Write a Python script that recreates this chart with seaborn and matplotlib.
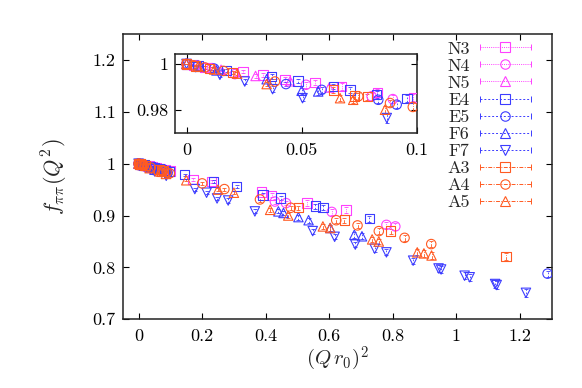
import numpy as np
import pandas as pd
import seaborn as sns
import matplotlib
matplotlib.use("Agg")
import matplotlib.pyplot as plt
from matplotlib.lines import Line2D
from matplotlib.legend_handler import HandlerLine2D, HandlerTuple
from matplotlib.ticker import FuncFormatter, FixedLocator

# ---------------- data ----------------
ensembles = ["N3", "N4", "N5", "E4", "E5", "F6", "F7", "A3", "A4", "A5"]

N3_x = [0.0, 0.003, 0.008, 0.0246, 0.0333, 0.0427, 0.0558, 0.0674, 0.0829, 0.0985, 0.171, 0.23, 0.387, 0.419, 0.53, 0.653]
N3_y = [1.0, 0.9995, 0.9985, 0.9967, 0.9953, 0.9934, 0.992, 0.9902, 0.9877, 0.9855, 0.970, 0.966, 0.945, 0.939, 0.924, 0.911]
N3_e = [0.0, 0.0003, 0.0005, 0.0008, 0.001, 0.001, 0.0012, 0.0014, 0.0015, 0.0017, 0.003, 0.003, 0.004, 0.004, 0.005, 0.006]

N4_x = [0.0, 0.004, 0.011, 0.021, 0.0519, 0.0804, 0.0896, 0.429, 0.464, 0.608, 0.78, 0.808]
N4_y = [1.0, 0.9993, 0.9982, 0.9956, 0.991, 0.986, 0.9848, 0.927, 0.924, 0.907, 0.882, 0.879]
N4_e = [0.0, 0.0003, 0.0006, 0.0008, 0.0012, 0.0015, 0.0016, 0.004, 0.004, 0.005, 0.006, 0.006]

N5_x = [0.0, 0.006, 0.015, 0.03, 0.045, 0.062]
N5_y = [1.0, 0.999, 0.9975, 0.9948, 0.9925, 0.9898]
N5_e = [0.0, 0.0003, 0.0006, 0.0009, 0.0011, 0.0013]

E4_x = [0.0, 0.005, 0.0174, 0.037, 0.0485, 0.0638, 0.071, 0.0826, 0.0957, 0.145, 0.236, 0.309, 0.391, 0.447, 0.556, 0.58, 0.726]
E4_y = [1.0, 0.9992, 0.9971, 0.9946, 0.9927, 0.9903, 0.9888, 0.9867, 0.985, 0.979, 0.965, 0.956, 0.94, 0.934, 0.918, 0.915, 0.894]
E4_e = [0.0, 0.0003, 0.0006, 0.0009, 0.001, 0.0012, 0.0013, 0.0014, 0.0016, 0.002, 0.003, 0.003, 0.004, 0.004, 0.005, 0.005, 0.006]

E5_x = [0.0, 0.005, 0.012, 0.0432, 0.0587, 0.0833, 0.0913, 1.287]
E5_y = [1.0, 0.9992, 0.998, 0.9913, 0.9888, 0.9845, 0.9824, 0.788]
E5_e = [0.0, 0.0003, 0.0005, 0.001, 0.0012, 0.0015, 0.0016, 0.006]

F6_x = [0.0, 0.006, 0.013, 0.0348, 0.05, 0.0572, 0.44, 0.456, 0.503, 0.535, 0.603, 0.679, 0.703]
F6_y = [1.0, 0.9988, 0.9972, 0.9934, 0.9884, 0.9881, 0.908, 0.905, 0.897, 0.891, 0.876, 0.863, 0.860]
F6_e = [0.0, 0.0004, 0.0007, 0.001, 0.0014, 0.0015, 0.004, 0.004, 0.005, 0.005, 0.005, 0.006, 0.006]

F7_x = [0.0, 0.004, 0.0145, 0.0253, 0.0374, 0.0504, 0.087, 0.177, 0.214, 0.247, 0.282, 0.366, 0.548, 0.617,
        0.682, 0.743, 0.78, 0.864, 0.944, 0.952, 1.026, 1.042, 1.122, 1.127, 1.219]
F7_y = [1.0, 0.9986, 0.9953, 0.9924, 0.9891, 0.9852, 0.9766, 0.951, 0.944, 0.933, 0.929, 0.908, 0.870, 0.859,
        0.844, 0.836, 0.829, 0.813, 0.798, 0.796, 0.784, 0.781, 0.768, 0.766, 0.751]
F7_e = [0.0, 0.0004, 0.0008, 0.001, 0.0012, 0.0014, 0.002, 0.003, 0.003, 0.003, 0.004, 0.004, 0.005, 0.005,
        0.005, 0.006, 0.006, 0.006, 0.007, 0.007, 0.007, 0.007, 0.008, 0.008, 0.008]

A3_x = [0.0, 0.004, 0.01, 0.02, 0.0638, 0.073, 0.0785, 0.503, 0.648, 0.793, 1.156]
A3_y = [1.0, 0.9992, 0.998, 0.9962, 0.9888, 0.9862, 0.9858, 0.915, 0.891, 0.870, 0.821]
A3_e = [0.0, 0.0003, 0.0005, 0.0007, 0.0012, 0.0013, 0.0014, 0.004, 0.005, 0.005, 0.006]

A4_x = [0.0, 0.003, 0.008, 0.016, 0.0384, 0.0746, 0.0884, 0.0983, 0.2, 0.27, 0.382, 0.479, 0.622, 0.689, 0.756, 0.837, 0.921]
A4_y = [1.0, 0.9994, 0.9985, 0.997, 0.9924, 0.986, 0.9831, 0.9814, 0.962, 0.951, 0.931, 0.915, 0.891, 0.881, 0.870, 0.857, 0.845]
A4_e = [0.0, 0.0003, 0.0005, 0.0007, 0.001, 0.0014, 0.0015, 0.0016, 0.003, 0.003, 0.004, 0.004, 0.005, 0.005, 0.006, 0.006, 0.006]

A5_x = [0.0, 0.005, 0.012, 0.022, 0.0348, 0.0667, 0.0724, 0.0862, 0.15, 0.25, 0.3, 0.414, 0.471, 0.58, 0.603,
        0.735, 0.756, 0.877, 0.898, 0.922]
A5_y = [1.0, 0.999, 0.9976, 0.9958, 0.9913, 0.9852, 0.9845, 0.9802, 0.968, 0.950, 0.944, 0.911, 0.900, 0.879, 0.876,
        0.854, 0.850, 0.829, 0.827, 0.823]
A5_e = [0.0, 0.0003, 0.0005, 0.0007, 0.001, 0.0013, 0.0014, 0.0015, 0.002, 0.003, 0.003, 0.004, 0.004, 0.005, 0.005,
        0.005, 0.005, 0.006, 0.006, 0.006]

main_xticks = [0, 0.2, 0.4, 0.6, 0.8, 1.0, 1.2]
main_yticks = [0.7, 0.8, 0.9, 1.0, 1.1, 1.2]
inset_xticks = [0, 0.05, 0.1]
inset_yticks = [0.98, 1.0]
xlabel = r"$(Q\,r_0)^2$"
ylabel = r"$f_{\pi\pi}(Q^2)$"

series = {
    "N3": (N3_x, N3_y, N3_e), "N4": (N4_x, N4_y, N4_e), "N5": (N5_x, N5_y, N5_e),
    "E4": (E4_x, E4_y, E4_e), "E5": (E5_x, E5_y, E5_e), "F6": (F6_x, F6_y, F6_e),
    "F7": (F7_x, F7_y, F7_e), "A3": (A3_x, A3_y, A3_e), "A4": (A4_x, A4_y, A4_e),
    "A5": (A5_x, A5_y, A5_e),
}
frames = []
for name in ensembles:
    x, y, e = series[name]
    frames.append(pd.DataFrame({"x": x, "y": y, "err": e, "ens": name}))
df = pd.concat(frames, ignore_index=True)

# ---------------- styles ----------------
MAG, BLU, ORA = "#ff40ff", "#3c3cff", "#ff5a22"
style = {
    "N3": (MAG, "s", (0, (1, 1.2))), "N4": (MAG, "o", (0, (1, 1.2))), "N5": (MAG, "^", (0, (1, 1.2))),
    "E4": (BLU, "s", (0, (2, 2))), "E5": (BLU, "o", (0, (2, 2))), "F6": (BLU, "^", (0, (2, 2))),
    "F7": (BLU, "v", (0, (2, 2))),
    "A3": (ORA, "s", (0, (4, 1.5, 1, 1.5))), "A4": (ORA, "o", (0, (4, 1.5, 1, 1.5))),
    "A5": (ORA, "^", (0, (4, 1.5, 1, 1.5))),
}

sns.set_style("ticks")
plt.rcParams.update({
    "font.family": ["cmr10", "DejaVu Serif"],
    "mathtext.fontset": "cm",
    "axes.formatter.use_mathtext": True,
    "axes.unicode_minus": False,
})

fig = plt.figure(figsize=(5.82, 3.88), dpi=100)
ax = fig.add_axes([0.2108, 0.1771, 0.7371, 0.7353])
axin = fig.add_axes([0.3007, 0.6564, 0.4153, 0.2044])

def draw(target, msize):
    for name in ensembles:
        c, m, ls = style[name]
        sub = df[df["ens"] == name]
        eb = target.errorbar(sub["x"], sub["y"], yerr=sub["err"], fmt="none", ecolor=c,
                             elinewidth=0.6, capsize=1.2, capthick=0.6, zorder=2)
        for coll in eb[2]:
            coll.set_linestyle(ls)
        sns.scatterplot(data=sub, x="x", y="y", marker=m, color=c, facecolor="none",
                        edgecolor=c, s=msize, linewidth=0.8, ax=target, legend=False, zorder=3)

draw(ax, 46)
draw(axin, 46)

fmt = FuncFormatter(lambda v, p: f"{v:g}")
for a in (ax, axin):
    a.tick_params(direction="in", top=True, right=True, length=4, width=0.8,
                  labelsize=13, colors="black")
    a.tick_params(axis="y", pad=5)
    a.tick_params(axis="x", pad=7)
    for sp in a.spines.values():
        sp.set_linewidth(1.1)
        sp.set_color("#222222")
    a.xaxis.set_major_formatter(fmt)
    a.yaxis.set_major_formatter(fmt)
    a.set_xlabel("")
    a.set_ylabel("")
    a.set_facecolor("white")

ax.set_xlim(-0.05, 1.3)
ax.set_ylim(0.7, 1.25)
ax.xaxis.set_major_locator(FixedLocator(main_xticks))
ax.yaxis.set_major_locator(FixedLocator(main_yticks))
axin.set_xlim(-0.005, 0.1)
axin.set_ylim(0.97, 1.0043)
axin.xaxis.set_major_locator(FixedLocator(inset_xticks))
axin.yaxis.set_major_locator(FixedLocator(inset_yticks))

ax.set_xlabel(xlabel, fontsize=15, labelpad=0)
ax.set_ylabel(ylabel, fontsize=16, labelpad=16)

# legend (gnuplot style: label then sample with error-bar caps)
handles, hmap = [], {}
for name in ensembles:
    c, m, ls = style[name]
    capline = Line2D([], [], color=c, linestyle=ls, linewidth=0.7, marker="|",
                     markersize=5, markeredgewidth=0.7)
    mk = Line2D([], [], color=c, linestyle="none", marker=m, markersize=6.8,
                markerfacecolor="none", markeredgewidth=0.8)
    hmap[capline] = HandlerLine2D(numpoints=2, marker_pad=0.0)
    hmap[mk] = HandlerLine2D(numpoints=1)
    handles.append((capline, mk))
hmap[tuple] = HandlerTuple(ndivide=1)
leg = ax.legend(handles, ensembles, handler_map=hmap,
                loc="upper right", bbox_to_anchor=(531 / 582, 1 - 41 / 388),
                bbox_transform=fig.transFigure, frameon=False, markerfirst=False,
                fontsize=13, handlelength=2.85, handletextpad=0.55, labelspacing=0.08,
                borderpad=0.0, borderaxespad=0.0)

fig.savefig("out.png", dpi=100)
